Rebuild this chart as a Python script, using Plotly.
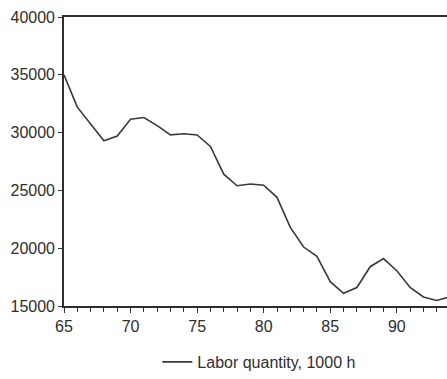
import plotly.graph_objects as go

# Years (two-digit) and labor quantity in thousands of hours
years = [65, 66, 67, 68, 69, 70, 71, 72, 73, 74, 75, 76, 77, 78, 79,
         80, 81, 82, 83, 84, 85, 86, 87, 88, 89, 90, 91, 92, 93, 94]
labor = [35000, 32200, 30750, 29300, 29700, 31150, 31300, 30600, 29800, 29900,
         29800, 28800, 26400, 25400, 25550, 25450, 24400, 21800, 20100, 19300,
         17100, 16100, 16600, 18400, 19100, 18050, 16600, 15780, 15480, 15800]

y_ticks = [15000, 20000, 25000, 30000, 35000, 40000]
x_ticks = [65, 70, 75, 80, 85, 90]

ink = "#2e2e2e"
font = dict(family="Liberation Sans, Arial, sans-serif", size=16, color=ink)

fig = go.Figure()
fig.add_trace(go.Scatter(
    x=years, y=labor, mode="lines",
    name="Labor quantity, 1000 h",
    line=dict(color="#3a3a3a", width=1.6),
))

fig.update_layout(
    width=447, height=379,
    margin=dict(l=64, r=0, t=17, b=68),
    paper_bgcolor="white", plot_bgcolor="white",
    font=font,
    showlegend=True,
    legend=dict(
        orientation="h", x=0.51, xanchor="center",
        y=-0.194, yanchor="middle",
        font=font, bgcolor="rgba(0,0,0,0)",
    ),
)

fig.update_xaxes(
    range=[65, 93.77],
    tickvals=x_ticks, ticktext=[str(v) for v in x_ticks],
    ticks="outside", ticklen=5, tickwidth=1.2, tickcolor=ink,
    minor=dict(dtick=1, ticks="outside", ticklen=4, tickwidth=1, tickcolor=ink),
    showline=True, linecolor=ink, linewidth=1.6, mirror=True,
    showgrid=False, zeroline=False,
    tickfont=font,
)
fig.update_yaxes(
    range=[15000, 40000],
    tickvals=y_ticks, ticktext=[str(v) for v in y_ticks],
    ticks="outside", ticklen=4, tickwidth=1.2, tickcolor=ink,
    showline=True, linecolor=ink, linewidth=1.6,
    showgrid=False, zeroline=False,
    tickfont=font,
)

fig.write_html("out.html")
